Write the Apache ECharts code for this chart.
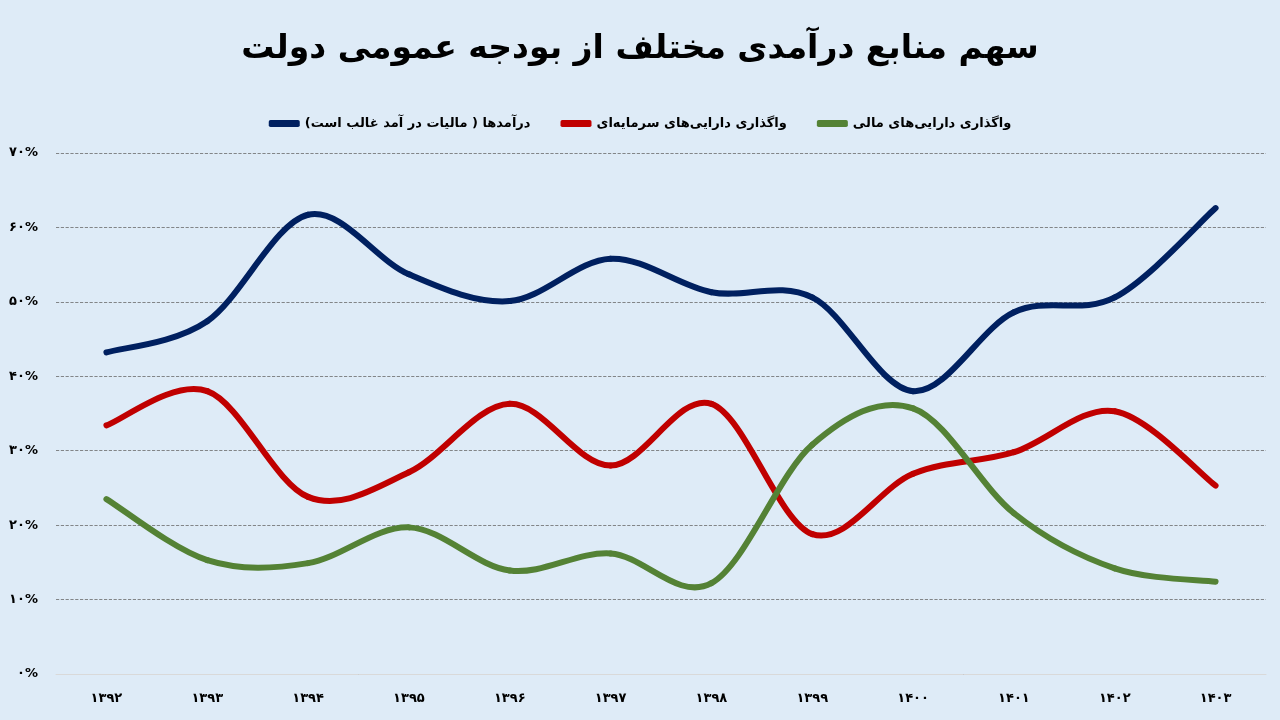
<!DOCTYPE html>
<html><head><meta charset="utf-8">
<script src="https://cdn.jsdelivr.net/npm/echarts@6/dist/echarts.min.js"></script>
<style>html,body{margin:0;padding:0;background:#DEEBF7;}#c{width:1280px;height:720px;}</style>
</head><body><div id="c"></div>
<script>
const titleText = 'سهم منابع درآمدی مختلف از بودجه عمومی دولت';
const categories = ['۱۳۹۲','۱۳۹۳','۱۳۹۴','۱۳۹۵','۱۳۹۶','۱۳۹۷','۱۳۹۸','۱۳۹۹','۱۴۰۰','۱۴۰۱','۱۴۰۲','۱۴۰۳'];
const seriesNames = ['درآمدها ( مالیات در آمد غالب است)\u200F','واگذاری دارایی‌های سرمایه‌ای','واگذاری دارایی‌های مالی'];
const revenue = [43.2, 47.4, 61.7, 53.7, 50.1, 55.8, 51.3, 50.6, 38.0, 48.6, 50.6, 62.6];
const capitalAssets = [33.4, 38.0, 23.8, 27.1, 36.3, 28.0, 36.3, 18.8, 26.9, 29.8, 35.3, 25.3];
const financialAssets = [23.5, 15.3, 14.9, 19.7, 13.9, 16.2, 12.2, 30.8, 35.7, 21.6, 14.2, 12.4];
const colors = ['#002060','#C00000','#548235'];
const faDigits = ['۰','۱','۲','۳','۴','۵','۶','۷','۸','۹'];
const toFa = s => String(s).replace(/[0-9]/g, d => faDigits[+d]);

const chart = echarts.init(document.getElementById('c'));
const font = 'DejaVu Sans';
const data = [revenue, capitalAssets, financialAssets];

// Excel-style smoothed line (Catmull-Rom Bezier) drawn through axis coordinates
function makeRender(arr, color) {
  return function (params, api) {
    const i = params.dataIndex;
    if (i >= arr.length - 1) return null;
    const clampIdx = j => Math.max(0, Math.min(arr.length - 1, j));
    const p = j => api.coord([clampIdx(j), arr[clampIdx(j)]]);
    const p0 = p(i - 1), p1 = p(i), p2 = p(i + 1), p3 = p(i + 2);
    const t = 1 / 6;
    return {
      type: 'bezierCurve',
      shape: {
        x1: p1[0], y1: p1[1], x2: p2[0], y2: p2[1],
        cpx1: p1[0] + (p2[0] - p0[0]) * t, cpy1: p1[1] + (p2[1] - p0[1]) * t,
        cpx2: p2[0] - (p3[0] - p1[0]) * t, cpy2: p2[1] - (p3[1] - p1[1]) * t
      },
      style: {stroke: color, lineWidth: 6, lineCap: 'round', fill: null},
      silent: true
    };
  };
}

chart.setOption({
  backgroundColor: '#DEEBF7',
  title: {text: titleText, left: 'center', top: 28,
    textStyle: {fontFamily: font, fontSize: 33, fontWeight: 'bold', color: '#000'}},
  legend: {top: 112, left: 'center', itemWidth: 31, itemHeight: 7, itemGap: 30,
    icon: 'roundRect',
    textStyle: {fontFamily: font, fontSize: 13, fontWeight: 'bold', color: '#000'},
    data: seriesNames.map((n, i) => ({name: n, itemStyle: {color: colors[i]}}))},
  grid: {left: 56, right: 14, top: 153, bottom: 46},
  xAxis: {type: 'category', data: categories, boundaryGap: true,
    axisLine: {lineStyle: {color: '#D9D9D9'}}, axisTick: {show: false},
    axisLabel: {fontFamily: font, fontSize: 13, fontWeight: 'bold', color: '#000', margin: 18}},
  yAxis: {type: 'value', min: 0, max: 70, interval: 10,
    axisLine: {show: false}, axisTick: {show: false},
    splitLine: {lineStyle: {color: '#6b6b6b', type: 'dashed', width: 0.8}},
    axisLabel: {fontFamily: font, fontSize: 13, fontWeight: 'bold', color: '#000', margin: 18,
      formatter: v => toFa(v) + '%'}},
  series: seriesNames.map((n, i) => ({
    name: n, type: 'custom', coordinateSystem: 'cartesian2d',
    data: data[i].map((v, j) => [j, v]),
    encode: {x: 0, y: 1},
    itemStyle: {color: colors[i]},
    renderItem: makeRender(data[i], colors[i])
  }))
});
</script></body></html>
